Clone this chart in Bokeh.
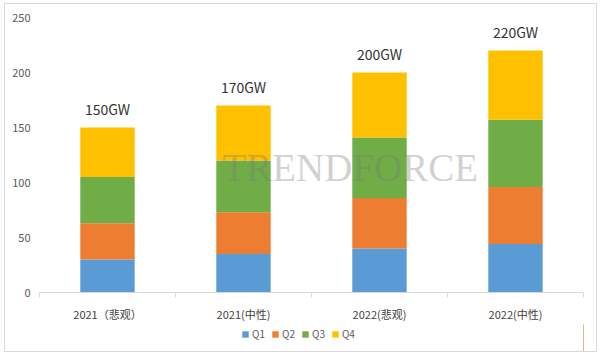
from bokeh.plotting import figure
from bokeh.layouts import column
from bokeh.models import FixedTicker, Range1d, Legend, LegendItem, ColumnDataSource
from bokeh.core.properties import value
from bokeh.embed import file_html
from bokeh.resources import INLINE
import numpy as np

categories = ["2021（悲观）", "2021(中性)", "2022(悲观)", "2022(中性)"]
series = ["Q1", "Q2", "Q3", "Q4"]
q1 = [30, 35, 40, 44]
q2 = [33, 38, 46, 52]
q3 = [42, 47, 55, 61]
q4 = [45, 50, 59, 63]
totals = [150, 170, 200, 220]
total_labels = ["150GW", "170GW", "200GW", "220GW"]
colors = ["#5B9BD5", "#ED7D31", "#70AD47", "#FFC000"]
y_ticks = [0, 50, 100, 150, 200, 250]

FONT = "Noto Sans CJK SC"

xs = list(np.arange(len(categories)) + 0.5)
src = ColumnDataSource(dict(x=xs, Q1=q1, Q2=q2, Q3=q3, Q4=q4,
                            total=totals, lab=total_labels))

p = figure(width=591, height=320, output_backend="svg", toolbar_location=None,
           x_range=Range1d(0, len(categories)), y_range=Range1d(0, 250),
           min_border_left=34, min_border_right=13, min_border_top=13,
           min_border_bottom=32)
p.outline_line_color = None
p.background_fill_color = "white"
p.border_fill_color = "white"
p.xgrid.visible = False
p.ygrid.visible = False

renderers = p.vbar_stack(series, x="x", width=0.4, source=src, color=colors,
                         line_color=None)

p.text(x="x", y="total", text="lab", source=src, text_align="center",
       text_baseline="middle", y_offset=-19, text_font=value(FONT),
       text_font_size="14px", text_color="#333333")

# watermark
p.text(x=[1.345], y=[114], text=["TRENDFORCE"], text_align="left",
       text_baseline="middle", text_font=value("Liberation Serif"),
       text_font_size="39px", text_color="#7a7a7a", text_alpha=0.35)

xa = p.xaxis[0]
xa.ticker = FixedTicker(ticks=xs, minor_ticks=list(range(len(categories) + 1)))
xa.major_label_overrides = {float(x): c for x, c in zip(xs, categories)}
xa.major_tick_line_color = None
xa.major_tick_out = 0
xa.major_tick_in = 0
xa.minor_tick_out = 5
xa.minor_tick_in = 0
xa.minor_tick_line_color = "#d9d9d9"
xa.axis_line_color = "#d9d9d9"
xa.major_label_standoff = 8
xa.major_label_text_font = FONT
xa.major_label_text_font_size = "11px"
xa.major_label_text_color = "#404040"

ya = p.yaxis[0]
ya.ticker = FixedTicker(ticks=y_ticks)
ya.axis_line_color = None
ya.major_tick_line_color = None
ya.minor_tick_line_color = None
ya.major_tick_out = 0
ya.major_label_standoff = 9
ya.major_label_text_font = FONT
ya.major_label_text_font_size = "11px"
ya.major_label_text_color = "#595959"

# legend strip below the chart
lg = figure(width=591, height=27, output_backend="svg", toolbar_location=None,
            x_axis_type=None, y_axis_type=None,
            x_range=Range1d(0, 1), y_range=Range1d(0, 1),
            min_border=0)
lg.outline_line_color = None
lg.xgrid.visible = False
lg.ygrid.visible = False
lg.border_fill_color = "white"
dummy = [lg.vbar(x=[5], top=[1], width=0.1, color=c, line_color=None) for c in colors]

legend = Legend(items=[LegendItem(label=s, renderers=[r]) for s, r in zip(series, dummy)],
                orientation="horizontal", location=(202, 10))
legend.label_text_font = FONT
legend.label_text_font_size = "10px"
legend.label_text_color = "#595959"
legend.glyph_width = 8
legend.glyph_height = 8
legend.label_width = 12
legend.label_height = 12
legend.label_standoff = 3
legend.spacing = 6
legend.padding = 2
legend.margin = 0
legend.border_line_color = None
legend.background_fill_alpha = 0
lg.add_layout(legend)

layout = column(p, lg, spacing=0)
layout.margin = (3, 0, 0, 4)
layout.styles = {"border": "1px solid #d9d9d9"}

open("out.html", "w").write(file_html(layout, INLINE))
